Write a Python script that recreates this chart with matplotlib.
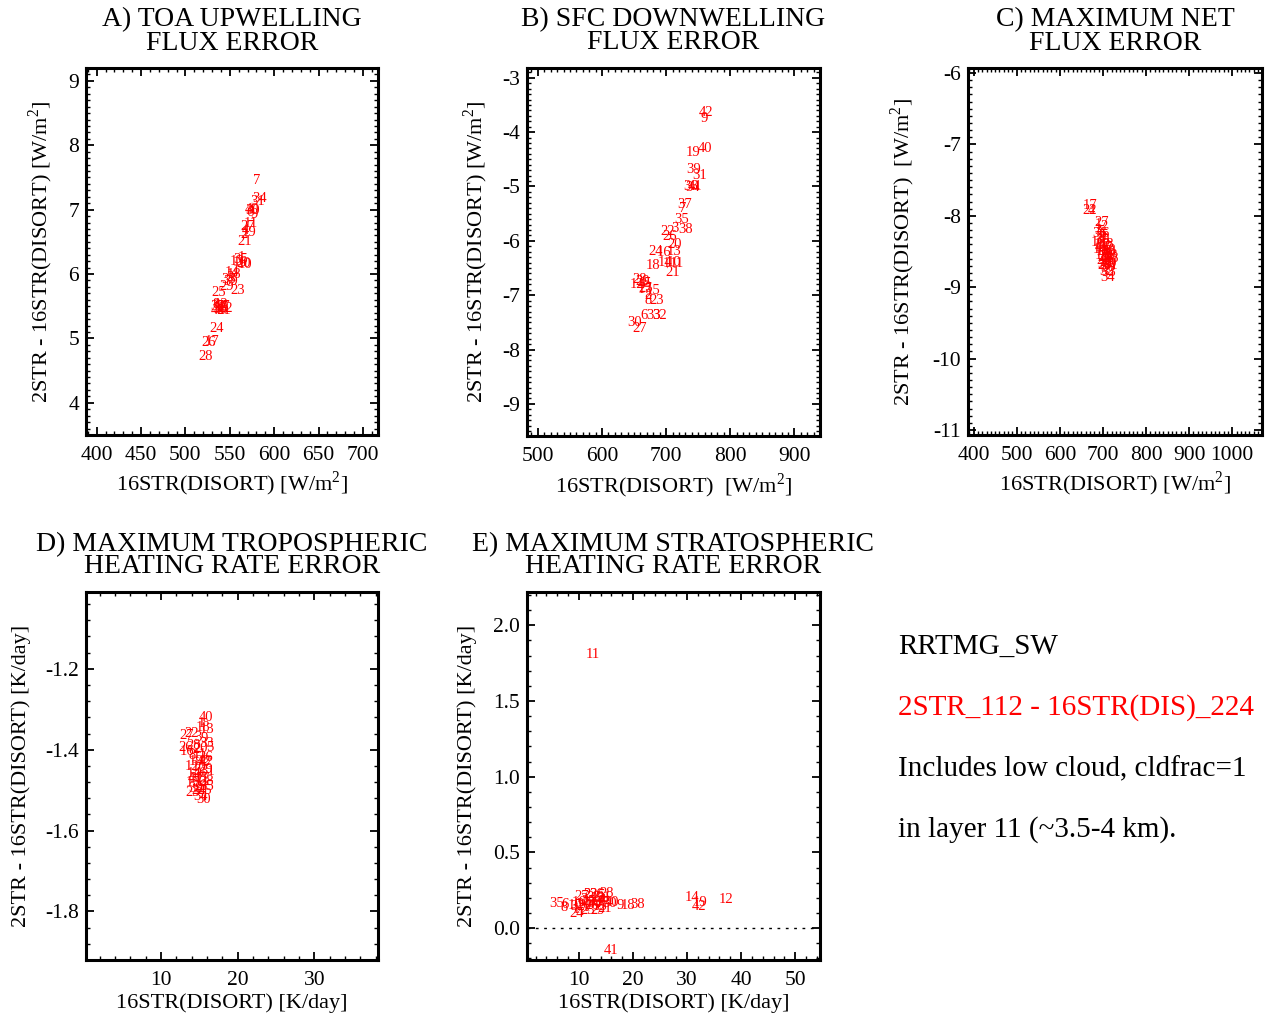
import matplotlib
matplotlib.use("Agg")
import matplotlib.pyplot as plt
from matplotlib.ticker import MultipleLocator, AutoMinorLocator, FormatStrFormatter

plt.rcParams['font.family'] = ['Liberation Serif', 'DejaVu Serif']
plt.rcParams['mathtext.fontset'] = 'custom'
plt.rcParams['mathtext.rm'] = 'Liberation Serif'
plt.rcParams['axes.unicode_minus'] = False

# ---------------- data ----------------
# Panel A: TOA upwelling flux error
a_lbl = [7, 34, 31, 40, 6, 9, 30, 11, 27, 4, 19, 2, 21, 1, 13, 35, 20, 10, 16, 14, 18,
         3, 33, 39, 29, 23, 25, 32, 36, 37, 38, 22, 8, 12, 41, 42, 5, 15, 24, 26, 17, 28]
a_x = [580, 584, 581, 575, 573, 577, 576, 574, 570, 568, 572, 566, 567, 563, 558, 562, 566, 567, 561, 552, 555,
       550, 549, 551, 547, 559, 538, 536, 538, 542, 540, 545, 535, 540, 543, 537, 539, 541, 535, 526, 530, 523]
a_y = [7.45, 7.17, 7.13, 7.00, 6.95, 6.93, 6.98, 6.78, 6.74, 6.68, 6.65, 6.62, 6.51, 6.25, 6.20, 6.22, 6.17, 6.15, 6.18, 6.03, 6.00,
       5.95, 5.92, 5.89, 5.80, 5.75, 5.72, 5.50, 5.47, 5.50, 5.45, 5.47, 5.52, 5.53, 5.43, 5.44, 5.49, 5.48, 5.15, 4.93, 4.95, 4.72]

# Panel B: SFC downwelling flux error
b_lbl = [42, 9, 19, 40, 39, 31, 36, 41, 34, 37, 7, 35, 22, 3, 38, 26, 20, 24, 16, 13, 18,
         14, 10, 11, 1, 21, 28, 4, 12, 5, 29, 15, 25, 17, 2, 23, 8, 6, 33, 32, 30, 27]
b_x = [762, 759, 742, 760, 743, 752, 738, 745, 741, 729, 726, 724, 703, 714, 731, 706, 713, 683, 697, 712, 680,
       698, 712, 716, 700, 710, 659, 662, 655, 670, 663, 680, 668, 667, 671, 686, 672, 665, 681, 690, 651, 659]
b_y = [-3.64, -3.74, -4.38, -4.31, -4.69, -4.79, -5.00, -5.00, -5.02, -5.33, -5.40, -5.60, -5.82, -5.78, -5.80, -5.92, -6.06, -6.20, -6.21, -6.19, -6.45,
       -6.40, -6.40, -6.41, -6.42, -6.59, -6.72, -6.80, -6.80, -6.79, -6.75, -6.92, -6.88, -6.90, -7.00, -7.09, -7.10, -7.37, -7.37, -7.37, -7.50, -7.62]

# Panel C: maximum net flux error
c_lbl = [17, 22, 4, 27, 1, 2, 3, 5, 6, 7, 8, 9, 10, 11, 12, 13, 14, 15, 16, 18, 19,
         20, 21, 23, 24, 25, 26, 28, 29, 30, 31, 32, 33, 34, 35, 36, 37, 38, 39, 40, 41, 42]
c_x = [671, 668, 674, 697, 690, 702, 688, 695, 704, 692, 699, 706, 689, 696, 703, 710, 694, 700, 707, 713, 698,
       704, 711, 717, 701, 708, 714, 720, 705, 711, 717, 708, 714, 711, 700, 693, 706, 712, 703, 716, 709, 698]
c_y = [-7.85, -7.93, -7.92, -8.10, -8.12, -8.15, -8.20, -8.22, -8.25, -8.30, -8.30, -8.33, -8.38, -8.40, -8.42, -8.40, -8.47, -8.50, -8.50, -8.48, -8.55,
       -8.58, -8.57, -8.55, -8.62, -8.65, -8.63, -8.60, -8.70, -8.72, -8.70, -8.78, -8.80, -8.86, -8.35, -8.25, -8.45, -8.52, -8.68, -8.67, -8.60, -8.45]

# Panel D: maximum tropospheric heating rate error
d_lbl = [40, 1, 18, 13, 27, 22, 3, 9, 26, 28, 33, 16, 2, 20, 5, 8, 11, 36, 19, 4, 7,
         12, 10, 29, 14, 6, 31, 37, 17, 15, 32, 38, 39, 21, 23, 24, 25, 34, 41, 42, 35, 30]
d_x = [15.8, 15.2, 15.5, 16.0, 13.3, 14.0, 14.8, 15.6, 13.2, 14.3, 15.9, 13.4, 14.6, 15.2, 16.3, 14.0, 15.0, 15.8, 14.5, 15.4, 16.2,
       14.1, 15.0, 15.8, 14.3, 15.3, 16.1, 14.6, 15.5, 14.2, 15.0, 15.9, 14.5, 15.3, 14.1, 14.9, 15.7, 15.1, 14.4, 15.6, 15.9, 15.6]
d_y = [-1.320, -1.335, -1.345, -1.350, -1.365, -1.360, -1.370, -1.372, -1.395, -1.390, -1.385, -1.405, -1.400, -1.398, -1.395, -1.415, -1.412, -1.420, -1.430, -1.428, -1.432,
       -1.442, -1.445, -1.448, -1.460, -1.458, -1.455, -1.470, -1.472, -1.480, -1.482, -1.478, -1.495, -1.490, -1.505, -1.500, -1.502, -1.515, -1.470, -1.430, -1.490, -1.522]

# Panel E: maximum stratospheric heating rate error
e_lbl = [11, 41, 14, 19, 42, 12, 35, 6, 8, 24, 28, 9, 18, 38, 27, 2, 22, 36, 5, 3, 33,
         13, 31, 16, 25, 39, 4, 10, 20, 26, 30, 1, 7, 15, 17, 21, 23, 29, 32, 34, 37, 40]
e_x = [12.6, 15.9, 30.9, 32.4, 32.2, 37.2, 5.9, 7.4, 7.2, 9.6, 15.2, 17.6, 19.1, 20.9, 10.5, 11.5, 12.2, 13.3, 14.1, 11.0, 12.8,
       13.6, 14.6, 10.1, 11.8, 13.0, 14.3, 9.3, 10.8, 12.4, 15.6, 11.3, 12.0, 13.9, 10.3, 14.8, 11.7, 13.4, 9.8, 12.9, 14.4, 16.2]
e_y = [1.81, -0.145, 0.20, 0.17, 0.145, 0.19, 0.16, 0.155, 0.135, 0.10, 0.23, 0.15, 0.15, 0.155, 0.21, 0.22, 0.225, 0.22, 0.215, 0.19, 0.20,
       0.195, 0.20, 0.17, 0.175, 0.17, 0.18, 0.15, 0.155, 0.15, 0.16, 0.135, 0.14, 0.145, 0.125, 0.13, 0.115, 0.12, 0.14, 0.16, 0.17, 0.17]

titles = ["A) TOA UPWELLING\nFLUX ERROR", "B) SFC DOWNWELLING\nFLUX ERROR",
          "C) MAXIMUM NET\nFLUX ERROR", "D) MAXIMUM TROPOSPHERIC\nHEATING RATE ERROR",
          "E) MAXIMUM STRATOSPHERIC\nHEATING RATE ERROR"]
xlabels = [r"16STR(DISORT) [W/m$^2$]", r"16STR(DISORT)  [W/m$^2$]", r"16STR(DISORT) [W/m$^2$]",
           "16STR(DISORT) [K/day]", "16STR(DISORT) [K/day]"]
ylabels = [r"2STR - 16STR(DISORT) [W/m$^2$]", r"2STR - 16STR(DISORT) [W/m$^2$]",
           r"2STR - 16STR(DISORT)  [W/m$^2$]", "2STR - 16STR(DISORT) [K/day]",
           "2STR - 16STR(DISORT) [K/day]"]
notes = ["RRTMG_SW", "2STR_112 - 16STR(DIS)_224",
         "Includes low cloud, cldfrac=1", "in layer 11 (~3.5-4 km)."]

# ---------------- layout ----------------
W, H = 1288, 1019
fig = plt.figure(figsize=(W / 100, H / 100), dpi=100)

def rect(l, t, r, b):
    return [l / W, 1 - b / H, (r - l) / W, (b - t) / H]

panels = [
    dict(rect=rect(86, 68, 378, 435), lbl=a_lbl, x=a_x, y=a_y, xlim=(388, 717), ylim=(3.5, 9.2),
         xmaj=50, xmin=5, ymaj=1, ymin=10, ylc=-0.106, xlc=-0.095, tly=(1.131, 1.068)),
    dict(rect=rect(527, 68, 820, 436), lbl=b_lbl, x=b_x, y=b_y, xlim=(483, 940), ylim=(-9.59, -2.82),
         xmaj=100, xmin=10, ymaj=1, ymin=10, ylc=-0.126, xlc=-0.095, tly=(1.131, 1.068)),
    dict(rect=rect(968, 68, 1262, 435), lbl=c_lbl, x=c_x, y=c_y, xlim=(387, 1069), ylim=(-11.07, -5.93),
         xmaj=100, xmin=10, ymaj=1, ymin=10, ylc=-0.173, xlc=-0.095, tly=(1.131, 1.068)),
    dict(rect=rect(86, 592, 378, 960), lbl=d_lbl, x=d_x, y=d_y, xlim=(0.2, 38.3), ylim=(-1.92, -1.01),
         xmaj=10, xmin=5, ymaj=0.2, ymin=5, ylc=-0.188, xlc=-0.09, tly=(1.128, 1.068)),
    dict(rect=rect(527, 592, 820, 960), lbl=e_lbl, x=e_x, y=e_y, xlim=(0.4, 54.6), ylim=(-0.21, 2.22),
         xmaj=10, xmin=5, ymaj=0.5, ymin=5, ylc=-0.171, xlc=-0.09, tly=(1.128, 1.068)),
]

for i, p in enumerate(panels):
    ax = fig.add_axes(p['rect'])
    ax.set_xlim(*p['xlim'])
    ax.set_ylim(*p['ylim'])
    for s in ax.spines.values():
        s.set_linewidth(2.2)
    ax.xaxis.set_major_locator(MultipleLocator(p['xmaj']))
    ax.xaxis.set_minor_locator(AutoMinorLocator(p['xmin']))
    ax.yaxis.set_major_locator(MultipleLocator(p['ymaj']))
    ax.yaxis.set_minor_locator(AutoMinorLocator(p['ymin']))
    ax.tick_params(which='both', direction='in', top=True, right=True, labelsize=15.5)
    ax.tick_params(which='major', length=6, width=1.3)
    ax.tick_params(which='minor', length=3, width=1.0)
    ax.tick_params(axis='x', pad=8)
    ax.tick_params(axis='y', pad=5)
    if i == 4:
        ax.yaxis.set_major_formatter(FormatStrFormatter('%.1f'))
        ax.axhline(0.0, color='black', linestyle=(0, (2, 4)), linewidth=1.0)
    ax.set_xlabel(xlabels[i], fontsize=16)
    ax.xaxis.set_label_coords(0.5, p['xlc'])
    ax.set_ylabel(ylabels[i], fontsize=16)
    ax.yaxis.set_label_coords(p['ylc'], 0.5)
    t1, t2 = titles[i].split("\n")
    ax.text(0.5, p['tly'][0], t1, transform=ax.transAxes, ha='center', va='center', fontsize=20)
    ax.text(0.5, p['tly'][1], t2, transform=ax.transAxes, ha='center', va='center', fontsize=20)
    for lb, xx, yy in zip(p['lbl'], p['x'], p['y']):
        ax.text(xx, yy, str(lb), color='red', fontsize=10.5, ha='center', va='center')

note_y = [647, 708, 769, 830]
note_c = ['black', 'red', 'black', 'black']
for txt, yy, cc in zip(notes, note_y, note_c):
    fig.text(898 / W, 1 - yy / H, txt, color=cc, fontsize=21, ha='left', va='center')

fig.savefig("out.png", dpi=100)
